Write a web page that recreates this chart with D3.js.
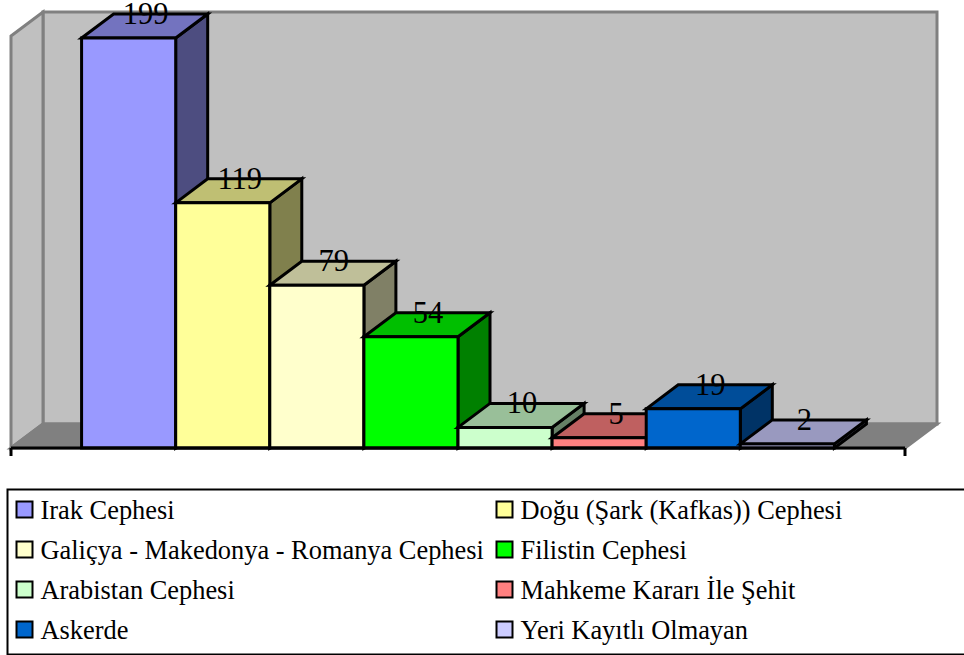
<!DOCTYPE html>
<html><head><meta charset="utf-8">
<script src="https://cdn.jsdelivr.net/npm/d3@7"></script>
<style>html,body{margin:0;padding:0;background:#fff}svg{display:block}text{font-family:"Liberation Serif",serif;fill:#000}</style>
</head><body><svg id="c" width="964" height="655"></svg>
<script>
const categories = ["Irak Cephesi","Doğu (Şark (Kafkas)) Cephesi","Galiçya - Makedonya - Romanya Cephesi","Filistin Cephesi","Arabistan Cephesi","Mahkeme Kararı İle Şehit","Askerde","Yeri Kayıtlı Olmayan"];
const values = [199,119,79,54,10,5,19,2];
const colors = ["#9999FF","#FFFF99","#FFFFCC","#00FF00","#CCFFCC","#FF8080","#0066CC","#CCCCFF"];

const svg = d3.select("#c");
const depthX = 32, depthY = -24;
const x = d3.scaleBand().domain(categories).range([11,905]).paddingInner(0).paddingOuter(0.75);
const y = d3.scaleLinear().domain([0,200]).range([448,36]);
const line = d3.line();
const poly = p => line(p) + "Z";
const shade = (c,k) => { const r = d3.rgb(c); return d3.rgb(r.r*k,r.g*k,r.b*k).formatHex(); };

const [x0,x1] = x.range(), yb = y(0), yt = y(200);
const wall = svg.append("g").attr("stroke","#808080").attr("stroke-width",3).attr("stroke-linejoin","miter");
wall.append("path").attr("fill","#C0C0C0").attr("d",poly([[x0+depthX,yt+depthY],[x1+depthX,yt+depthY],[x1+depthX,yb+depthY],[x0+depthX,yb+depthY]]));
wall.append("path").attr("fill","#C0C0C0").attr("d",poly([[x0,yt],[x0+depthX,yt+depthY],[x0+depthX,yb+depthY],[x0,yb]]));
wall.append("path").attr("fill","#808080").attr("stroke","#808080").attr("d",poly([[x0,yb],[x0+depthX,yb+depthY],[x1+depthX,yb+depthY],[x1,yb]]));

const bars = svg.append("g").attr("stroke","#000").attr("stroke-width",3).attr("stroke-linejoin","miter");
categories.forEach((c,i)=>{
  const l = x(c), r = l + x.bandwidth(), t = y(values[i]);
  bars.append("path").attr("fill",shade(colors[i],0.5)).attr("d",poly([[r,t],[r+depthX,t+depthY],[r+depthX,yb+depthY],[r,yb]]));
  bars.append("path").attr("fill",shade(colors[i],0.75)).attr("d",poly([[l,t],[l+depthX,t+depthY],[r+depthX,t+depthY],[r,t]]));
  bars.append("path").attr("fill",colors[i]).attr("d",poly([[l,t],[r,t],[r,yb],[l,yb]]));
});

const axis = svg.append("g").attr("stroke","#000").attr("stroke-width",3).attr("fill","none");
axis.append("path").attr("d",line([[x0,yb],[x1,yb]]));
axis.append("path").attr("d",line([[x0,yb],[x0,yb+8]]));
axis.append("path").attr("d",line([[x1,yb],[x1,yb+8]]));

svg.append("g").selectAll("text").data(categories).join("text")
  .attr("x",c=>x(c)+x.bandwidth()/2+depthX/2+1)
  .attr("y",(c,i)=>y(values[i])-14)
  .attr("text-anchor","middle").attr("font-size",30.5)
  .text((c,i)=>values[i]);

svg.append("rect").attr("x",7.5).attr("y",489.5).attr("width",965).attr("height",165).attr("fill","#fff").attr("stroke","#000").attr("stroke-width",2);
const colX = [16,496];
const rowY = d3.scalePoint().domain([0,1,2,3]).range([510,630]);
const lg = svg.append("g").selectAll("g").data(categories).join("g")
  .attr("transform",(c,i)=>`translate(${colX[i%2]},${rowY(Math.floor(i/2))})`);
lg.append("rect").attr("x",0.5).attr("y",-8.5).attr("width",16).attr("height",16)
  .attr("fill",(c,i)=>colors[i]).attr("stroke","#000").attr("stroke-width",2);
lg.append("text").attr("x",24.5).attr("y",9).attr("font-size",26.4).text(c=>c);
</script></body></html>
